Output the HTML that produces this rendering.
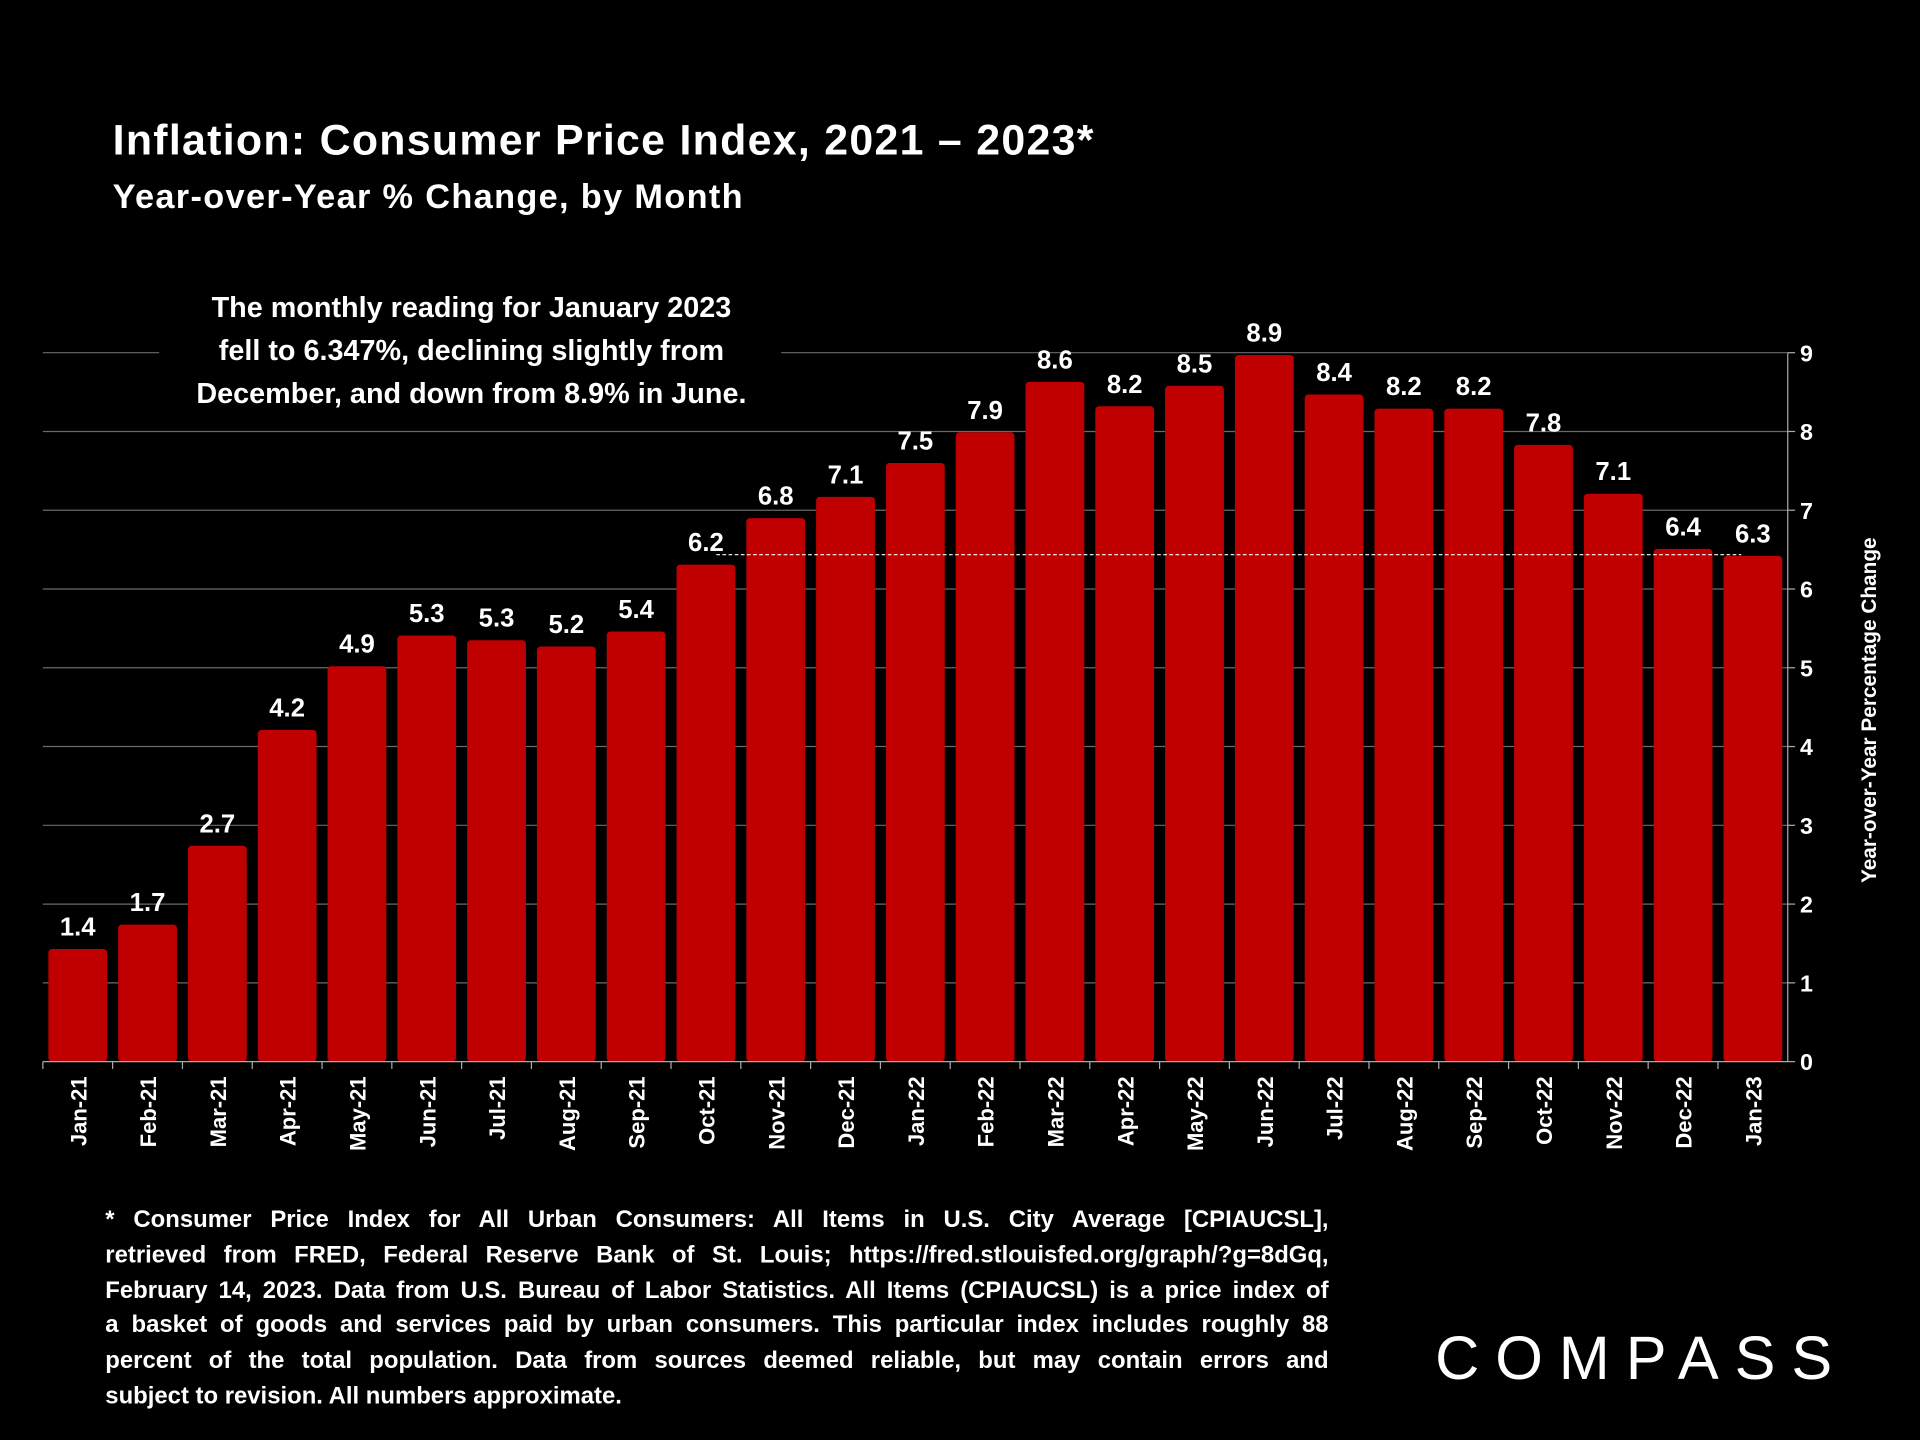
<!DOCTYPE html>
<html><head><meta charset="utf-8"><style>
html,body{margin:0;padding:0;background:#000;width:1920px;height:1440px;overflow:hidden}
#wrap{position:absolute;left:0;top:0;width:1568px;height:1176px;transform:scale(1.22449);transform-origin:0 0;font-family:"Liberation Sans",sans-serif;color:#fff}
.abs{position:absolute}
.fl{text-align:justify;text-align-last:justify;white-space:nowrap;height:28.8px}
</style></head><body>
<div id="wrap">
<div class="abs" style="left:92px;top:95px;font-size:35px;font-weight:bold;letter-spacing:1.05px;white-space:nowrap">Inflation: Consumer Price Index, 2021 – 2023*</div>
<div class="abs" style="left:92px;top:145px;font-size:28px;font-weight:bold;letter-spacing:1.1px;white-space:nowrap">Year-over-Year % Change, by Month</div>
<div class="abs" style="left:110px;top:234px;width:550px;text-align:center;font-size:23.5px;font-weight:bold;line-height:35px">The monthly reading for January 2023<br>fell to 6.347%, declining slightly from<br>December, and down from 8.9% in June.</div>
<svg class="abs" style="left:0;top:0" width="1568" height="1176">
<g id="grid"></g><g id="bars"></g><g id="labels"></g><g id="axis"></g>
<text x="1532" y="580" transform="rotate(-90 1532 580)" text-anchor="middle" fill="#fff" font-size="17" font-weight="bold" font-family="Liberation Sans, sans-serif">Year-over-Year Percentage Change</text>
</svg>
<div class="abs" style="left:86px;top:982px;width:999px;font-size:19.5px;font-weight:bold;line-height:28.8px">
<div class="fl">* Consumer Price Index for All Urban Consumers: All Items in U.S. City Average [CPIAUCSL],</div>
<div class="fl">retrieved from FRED, Federal Reserve Bank of St. Louis; https://fred.stlouisfed.org/graph/?g=8dGq,</div>
<div class="fl">February 14, 2023. Data from U.S. Bureau of Labor Statistics. All Items (CPIAUCSL) is a price index of</div>
<div class="fl">a basket of goods and services paid by urban consumers. This particular index includes roughly 88</div>
<div class="fl">percent of the total population. Data from sources deemed reliable, but may contain errors and</div>
<div style="white-space:nowrap">subject to revision. All numbers approximate.</div>
</div>
<div class="abs" style="left:1172px;top:1080px;font-size:50px;letter-spacing:13px;font-weight:normal;white-space:nowrap">COMPASS</div>
</div>
<script>
const categories=["Jan-21","Feb-21","Mar-21","Apr-21","May-21","Jun-21","Jul-21","Aug-21","Sep-21","Oct-21","Nov-21","Dec-21","Jan-22","Feb-22","Mar-22","Apr-22","May-22","Jun-22","Jul-22","Aug-22","Sep-22","Oct-22","Nov-22","Dec-22","Jan-23"];
const values=[1.43,1.74,2.74,4.21,5.02,5.41,5.35,5.27,5.46,6.31,6.9,7.17,7.6,7.99,8.63,8.32,8.58,8.97,8.47,8.29,8.29,7.83,7.21,6.51,6.42];
const valueLabels=["1.4","1.7","2.7","4.2","4.9","5.3","5.3","5.2","5.4","6.2","6.8","7.1","7.5","7.9","8.6","8.2","8.5","8.9","8.4","8.2","8.2","7.8","7.1","6.4","6.3"];
const yTicks=[0,1,2,3,4,5,6,7,8,9];
const refValue=6.42;
const NS="http://www.w3.org/2000/svg";
const x0=35,band=57,yBase=867,unit=64.33;
const xS=i=>x0+i*band, yS=v=>yBase-v*unit;
function mk(t,a,p){const e=document.createElementNS(NS,t);for(const k in a)e.setAttribute(k,a[k]);p.appendChild(e);return e;}
const g=document.getElementById('grid'),b=document.getElementById('bars'),l=document.getElementById('labels'),ax=document.getElementById('axis');
const xEnd=x0+categories.length*band;
yTicks.forEach(t=>{
 if(t>0){
  if(t===9){
   const a=mk('line',{x1:x0,x2:130,y1:yS(t),y2:yS(t),stroke:'#6a6a6a','stroke-width':1},g);
   
   const c=mk('line',{x1:638,x2:xEnd,y1:yS(t),y2:yS(t),stroke:'#6a6a6a','stroke-width':1},g);
   
  } else {
   const a=mk('line',{x1:x0,x2:xEnd,y1:yS(t),y2:yS(t),stroke:'#6a6a6a','stroke-width':1},g);
   
  }
 }
 const tk=mk('line',{x1:xEnd,x2:xEnd+6,y1:yS(t),y2:yS(t),stroke:'#aaa'},ax);
 
 const tx=mk('text',{x:xEnd+10,y:yS(t)+7,fill:'#fff','font-size':19,'font-weight':'bold','font-family':'Liberation Sans, sans-serif'},ax);
 tx.textContent=t;
 
});
const ya=mk('line',{x1:xEnd,x2:xEnd,y1:yS(9),y2:yBase,stroke:'#aaa'},ax);

const xa=mk('line',{x1:x0,x2:xEnd,y1:yBase,y2:yBase,stroke:'#aaa'},ax);

categories.forEach((c,i)=>{
 const cx=xS(i)+band/2;
 const r=mk('rect',{x:xS(i)+4.5,y:yS(values[i]),width:48,height:values[i]*unit,rx:3,fill:'#c00000'},b);
 
 const vl=mk('text',{x:cx,y:yS(values[i])-11,fill:'#fff','font-size':21,'font-weight':'bold','text-anchor':'middle','font-family':'Liberation Sans, sans-serif'},l);
 vl.textContent=valueLabels[i];
 
 const tk=mk('line',{x1:xS(i),x2:xS(i),y1:yBase,y2:yBase+6,stroke:'#aaa'},ax);
 
 const xl=mk('text',{x:cx+7,y:yBase+12,fill:'#fff','font-size':18,'font-weight':'bold','text-anchor':'end','font-family':'Liberation Sans, sans-serif',transform:`rotate(-90 ${cx+7} ${yBase+12})`},ax);
 xl.textContent=c;
 
});
const d=mk('line',{x1:585,x2:1422,y1:yS(refValue)-1,y2:yS(refValue)-1,stroke:'#fff','stroke-dasharray':'3,2','stroke-width':1},l);

</script>
</body></html>
